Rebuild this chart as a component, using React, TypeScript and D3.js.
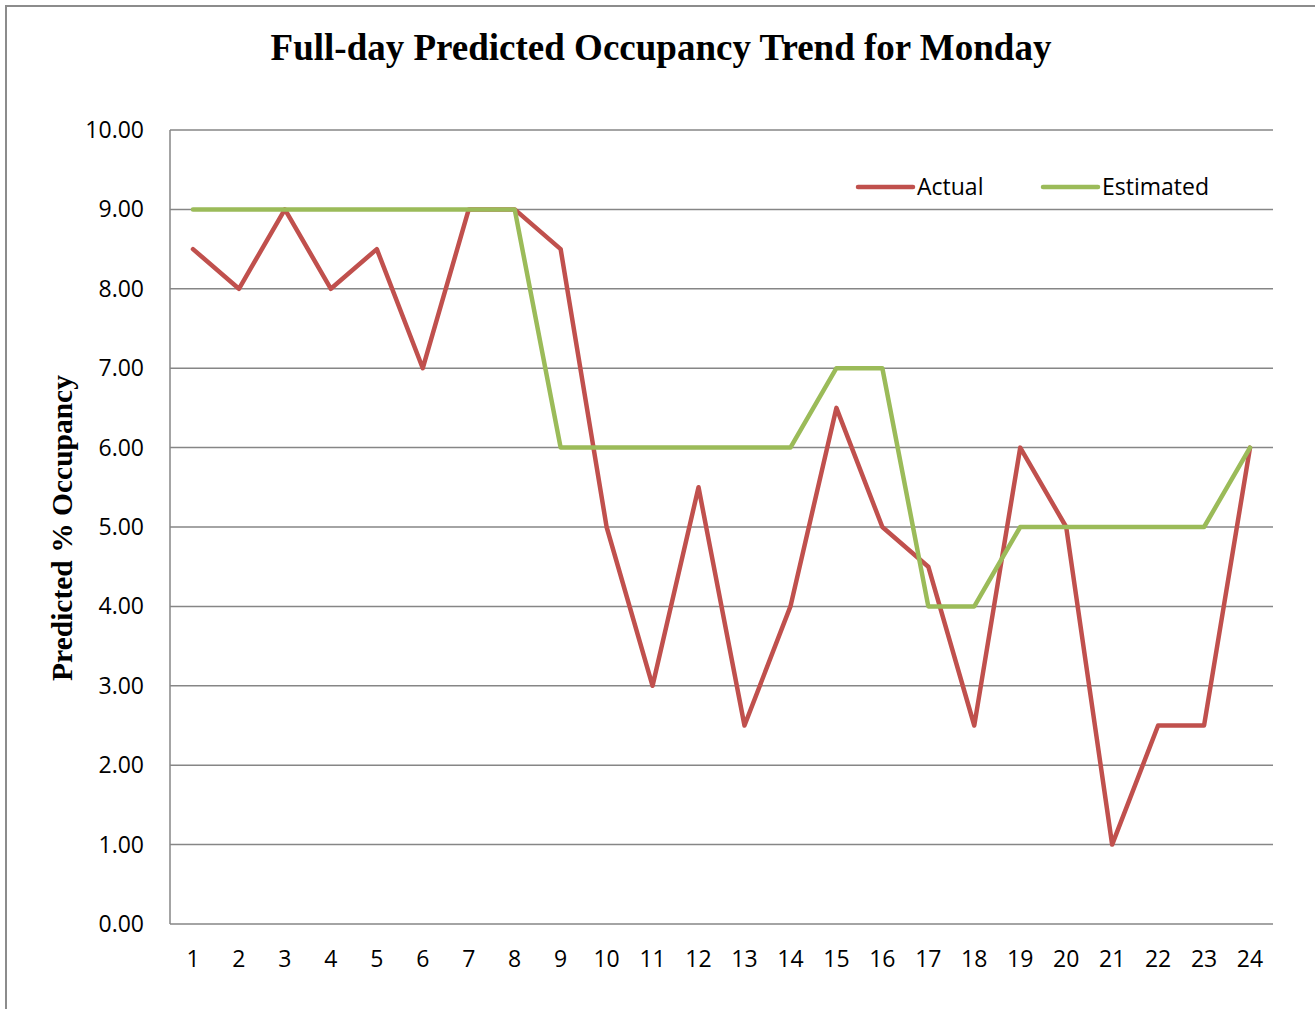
import React from 'react';
import * as d3 from 'd3';

const width = 1315;
const height = 1009;
const margin = { top: 130, right: 42, bottom: 85, left: 170 };

const hours = d3.range(1, 25).map(String);
const actual = [8.5, 8, 9, 8, 8.5, 7, 9, 9, 8.5, 5, 3, 5.5, 2.5, 4, 6.5, 5, 4.5, 2.5, 6, 5, 1, 2.5, 2.5, 6];
const estimated = [9, 9, 9, 9, 9, 9, 9, 9, 6, 6, 6, 6, 6, 6, 7, 7, 4, 4, 5, 5, 5, 5, 5, 6];
const yTicks = d3.range(0, 11);

const series = [
  { name: 'Actual', values: actual, color: '#C0504D', legendX: 858 },
  { name: 'Estimated', values: estimated, color: '#9BBB59', legendX: 1043 },
];

const labelFont = "'Open Sans', 'DejaVu Sans', sans-serif";
const serifFont = "'Liberation Serif', 'Times New Roman', serif";

const App = () => {
  const x = d3.scaleBand().domain(hours).range([margin.left, width - margin.right]);
  const y = d3.scaleLinear().domain([0, 10]).range([height - margin.bottom, margin.top]);

  const lineGen = d3.line<number>()
    .x((_, i) => (x(hours[i]) as number) + x.bandwidth() / 2)
    .y(d => y(d));

  return (
    <svg width={width} height={height} style={{ position: 'absolute', left: 0, top: 0, background: '#fff' }}>
      <path d={`M6,${height} V6 H${width}`} fill='none' stroke='#8c8c8c' strokeWidth={2} />
      <text x={661} y={60} textAnchor='middle' fontFamily={serifFont} fontWeight='bold' fontSize={37}>
        Full-day Predicted Occupancy Trend for Monday
      </text>
      <text
        transform={`translate(72, 528) rotate(-90)`}
        textAnchor='middle'
        fontFamily={serifFont}
        fontWeight='bold'
        fontSize={29.5}
      >
        Predicted % Occupancy
      </text>
      {yTicks.map(t => (
        <g key={t}>
          <line x1={margin.left} x2={width - margin.right} y1={y(t)} y2={y(t)} stroke='#868686' strokeWidth={1.5} />
          <text x={144} y={y(t)} dy='0.35em' textAnchor='end' fontFamily={labelFont} fontSize={23} fill='#000'>
            {t.toFixed(2)}
          </text>
        </g>
      ))}
      <line x1={margin.left} x2={margin.left} y1={y(0)} y2={y(10)} stroke='#868686' strokeWidth={1.5} />
      {hours.map(h => (
        <text
          key={h}
          x={(x(h) as number) + x.bandwidth() / 2}
          y={967}
          textAnchor='middle'
          fontFamily={labelFont}
          fontSize={23}
          fill='#000'
        >
          {h}
        </text>
      ))}
      {series.map(s => (
        <path
          key={s.name}
          d={lineGen(s.values) as string}
          fill='none'
          stroke={s.color}
          strokeWidth={4.5}
          strokeLinejoin='round'
          strokeLinecap='round'
        />
      ))}
      {series.map(s => (
        <g key={s.name}>
          <line x1={s.legendX} x2={s.legendX + 55} y1={187} y2={187} stroke={s.color} strokeWidth={4.5} strokeLinecap='round' />
          <text x={s.legendX + 59} y={187} dy='0.35em' fontFamily={labelFont} fontSize={23} fill='#000'>
            {s.name}
          </text>
        </g>
      ))}
    </svg>
  );
};

export default App;
